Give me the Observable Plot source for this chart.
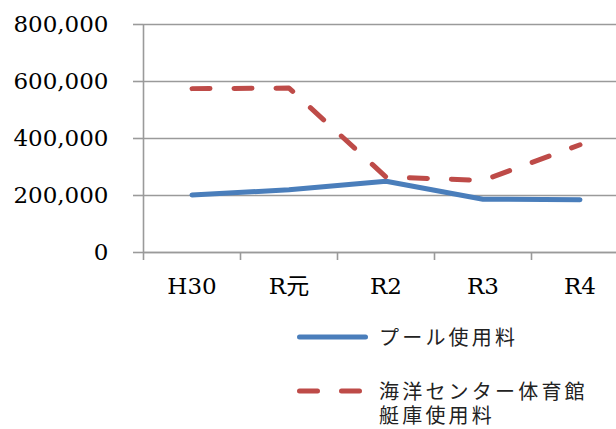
<!DOCTYPE html>
<html>
<head>
<meta charset="utf-8">
<script src="https://cdn.jsdelivr.net/npm/d3@7"></script>
<script src="https://cdn.jsdelivr.net/npm/@observablehq/plot@0.6"></script>
<style>
  html, body { margin: 0; padding: 0; background: #fff; overflow: hidden; }
  #wrap { position: relative; width: 616px; height: 429px; }
  #legend .item { position: absolute; display: flex; align-items: flex-start; }
  #legend .txt { font-family: 'Noto Sans CJK JP', sans-serif; font-size: 20px; letter-spacing: 3.2px; line-height: 24px; color: #222; margin-left: 9px; white-space: pre; }
</style>
</head>
<body>
<div id="wrap"><div id="chart"></div><div id="legend"></div></div>
<script>
const categories = ["H30", "R元", "R2", "R3", "R4"];
const poolFee = [202000, 220000, 250000, 187000, 185000];
const boatFee = [575000, 577000, 265000, 253000, 378000];
const yTicks = [0, 200000, 400000, 600000, 800000];
const seriesNames = ["プール使用料", "海洋センター体育館\n艇庫使用料"];
const seriesColors = ["#4a7ebb", "#be4b48"];

const data = categories.map((c, i) => ({i, c, pool: poolFee[i], boat: boatFee[i]}));
const bounds = d3.range(categories.length + 1);
const centers = categories.map((c, i) => i + 0.5);
const grid = "#9a9a9a";
const serif = "'DejaVu Serif', 'Noto Sans CJK JP', serif";

const chart = Plot.plot({
  width: 616,
  height: 310,
  marginTop: 24,
  marginBottom: 58,
  marginLeft: 143,
  marginRight: 0,
  style: {fontFamily: serif, fontSize: "23px", color: "#000", background: "#fff", overflow: "hidden"},
  x: {type: "linear", domain: [0, categories.length], range: [143, 628]},
  y: {domain: [0, 800000], range: [252, 24]},
  marks: [
    Plot.gridY(yTicks, {stroke: grid, strokeOpacity: 1, strokeWidth: 1.6}),
    Plot.axisY(yTicks, {tickSize: 10, tickPadding: 25, stroke: grid, strokeWidth: 1.6, tickFormat: d3.format(","), fill: "#000", fontSize: 23, label: null}),
    Plot.axisX(bounds, {tickSize: 8, tickFormat: () => "", stroke: grid, strokeWidth: 1.6, label: null}),
    Plot.axisX(centers, {tickSize: 0, tickPadding: 25, tickFormat: d => categories[Math.floor(d)], fill: "#000", fontSize: 23, label: null}),
    Plot.ruleX([0], {stroke: grid, strokeWidth: 1.6}),
    Plot.ruleY([0], {stroke: grid, strokeWidth: 1.6}),
    Plot.line(data, {x: d => d.i + 0.5, y: "pool", stroke: seriesColors[0], strokeWidth: 5, strokeLinejoin: "round", strokeLinecap: "round"}),
    Plot.line(data, {x: d => d.i + 0.5, y: "boat", stroke: seriesColors[1], strokeWidth: 5, strokeLinejoin: "round", strokeLinecap: "round", strokeDasharray: "18,24"})
  ]
});
document.getElementById("chart").appendChild(chart);

// legend
const legend = document.getElementById("legend");
const tops = [325, 379];
const dashes = [null, "18,24"];
seriesNames.forEach((name, k) => {
  const item = document.createElement("div");
  item.className = "item";
  item.style.left = "295px";
  item.style.top = tops[k] + "px";
  const ns = "http://www.w3.org/2000/svg";
  const s = document.createElementNS(ns, "svg");
  s.setAttribute("width", 75);
  s.setAttribute("height", 24);
  const ln = document.createElementNS(ns, "line");
  ln.setAttribute("x1", 4.5); ln.setAttribute("x2", 70.5);
  ln.setAttribute("y1", 12); ln.setAttribute("y2", 12);
  ln.setAttribute("stroke", seriesColors[k]);
  ln.setAttribute("stroke-width", 5);
  ln.setAttribute("stroke-linecap", "round");
  if (dashes[k]) ln.setAttribute("stroke-dasharray", dashes[k]);
  s.appendChild(ln);
  item.appendChild(s);
  const t = document.createElement("div");
  t.className = "txt";
  t.textContent = name;
  item.appendChild(t);
  legend.appendChild(item);
});
</script>
</body>
</html>
